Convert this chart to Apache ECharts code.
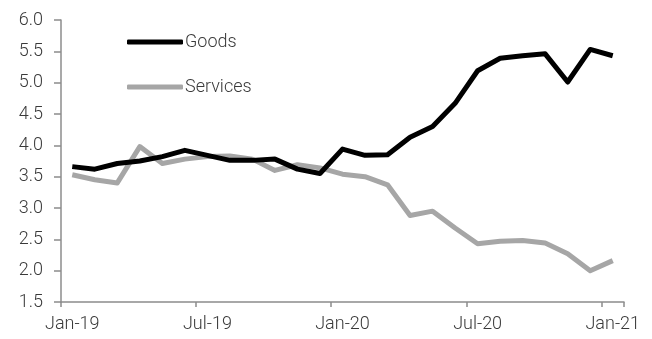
<!DOCTYPE html>
<html>
<head>
<meta charset="utf-8">
<script src="https://cdn.jsdelivr.net/npm/echarts@6/dist/echarts.min.js"></script>
<style>
  html, body { margin: 0; padding: 0; background: #fff; }
  #chart { width: 652px; height: 339px; }
</style>
</head>
<body>
<div id="chart"></div>
<script>
// monthly categories Jan-19 .. Jan-21
const months = [
  'Jan-19', 'Feb-19', 'Mar-19', 'Apr-19', 'May-19', 'Jun-19',
  'Jul-19', 'Aug-19', 'Sep-19', 'Oct-19', 'Nov-19', 'Dec-19',
  'Jan-20', 'Feb-20', 'Mar-20', 'Apr-20', 'May-20', 'Jun-20',
  'Jul-20', 'Aug-20', 'Sep-20', 'Oct-20', 'Nov-20', 'Dec-20',
  'Jan-21'
];

const goods = [
  3.66, 3.62, 3.71, 3.75, 3.82, 3.92, 3.84, 3.76, 3.76, 3.78, 3.62, 3.55,
  3.94, 3.84, 3.85, 4.13, 4.30, 4.67, 5.19, 5.39, 5.43, 5.46, 5.01, 5.53,
  5.43
];

const services = [
  3.53, 3.45, 3.40, 3.98, 3.71, 3.78, 3.82, 3.83, 3.78, 3.60, 3.69, 3.64,
  3.54, 3.50, 3.37, 2.88, 2.95, 2.68, 2.43, 2.47, 2.48, 2.44, 2.27, 2.00,
  2.16
];

const font = 'Roboto, "Liberation Sans", sans-serif';
const textColor = '#3a3a3a';
const axisColor = '#8c8c8c';

const chart = echarts.init(document.getElementById('chart'), null, { renderer: 'canvas' });

chart.setOption({
  backgroundColor: '#fff',
  animation: false,
  grid: { left: 61, right: 28, top: 20, bottom: 37 },
  legend: {
    orient: 'vertical',
    left: 127,
    top: 32,
    padding: 0,
    itemWidth: 56,
    itemHeight: 5,
    itemGap: 25,
    icon: 'roundRect',
    textStyle: { fontFamily: font, fontSize: 18, color: textColor, fontWeight: 300, lineHeight: 20, padding: [0, 0, 0, -3] },
    data: ['Goods', 'Services']
  },
  xAxis: {
    type: 'category',
    data: months,
    boundaryGap: true,
    axisLine: { lineStyle: { color: axisColor, width: 1.5 } },
    axisTick: { show: true, interval: 5, length: 5, lineStyle: { color: axisColor, width: 1.5 } },
    axisLabel: {
      interval: 5,
      margin: 13,
      fontFamily: font,
      fontSize: 18,
      fontWeight: 300,
      color: textColor
    },
    splitLine: { show: false }
  },
  yAxis: {
    type: 'value',
    min: 1.5,
    max: 6,
    interval: 0.5,
    axisLine: { show: true, lineStyle: { color: axisColor, width: 1.5 } },
    axisTick: { show: true, length: 7, lineStyle: { color: axisColor, width: 1.5 } },
    axisLabel: {
      margin: 18,
      fontFamily: font,
      fontSize: 18,
      fontWeight: 300,
      color: textColor,
      formatter: v => v.toFixed(1)
    },
    splitLine: { show: false }
  },
  series: [
    {
      name: 'Goods',
      type: 'line',
      data: goods,
      showSymbol: false,
      itemStyle: { color: '#000' },
      lineStyle: { color: '#000', width: 5, join: 'round' },
      z: 3
    },
    {
      name: 'Services',
      type: 'line',
      data: services,
      showSymbol: false,
      itemStyle: { color: '#a6a6a6' },
      lineStyle: { color: '#a6a6a6', width: 5, join: 'round' },
      z: 2
    }
  ]
});
</script>
</body>
</html>
